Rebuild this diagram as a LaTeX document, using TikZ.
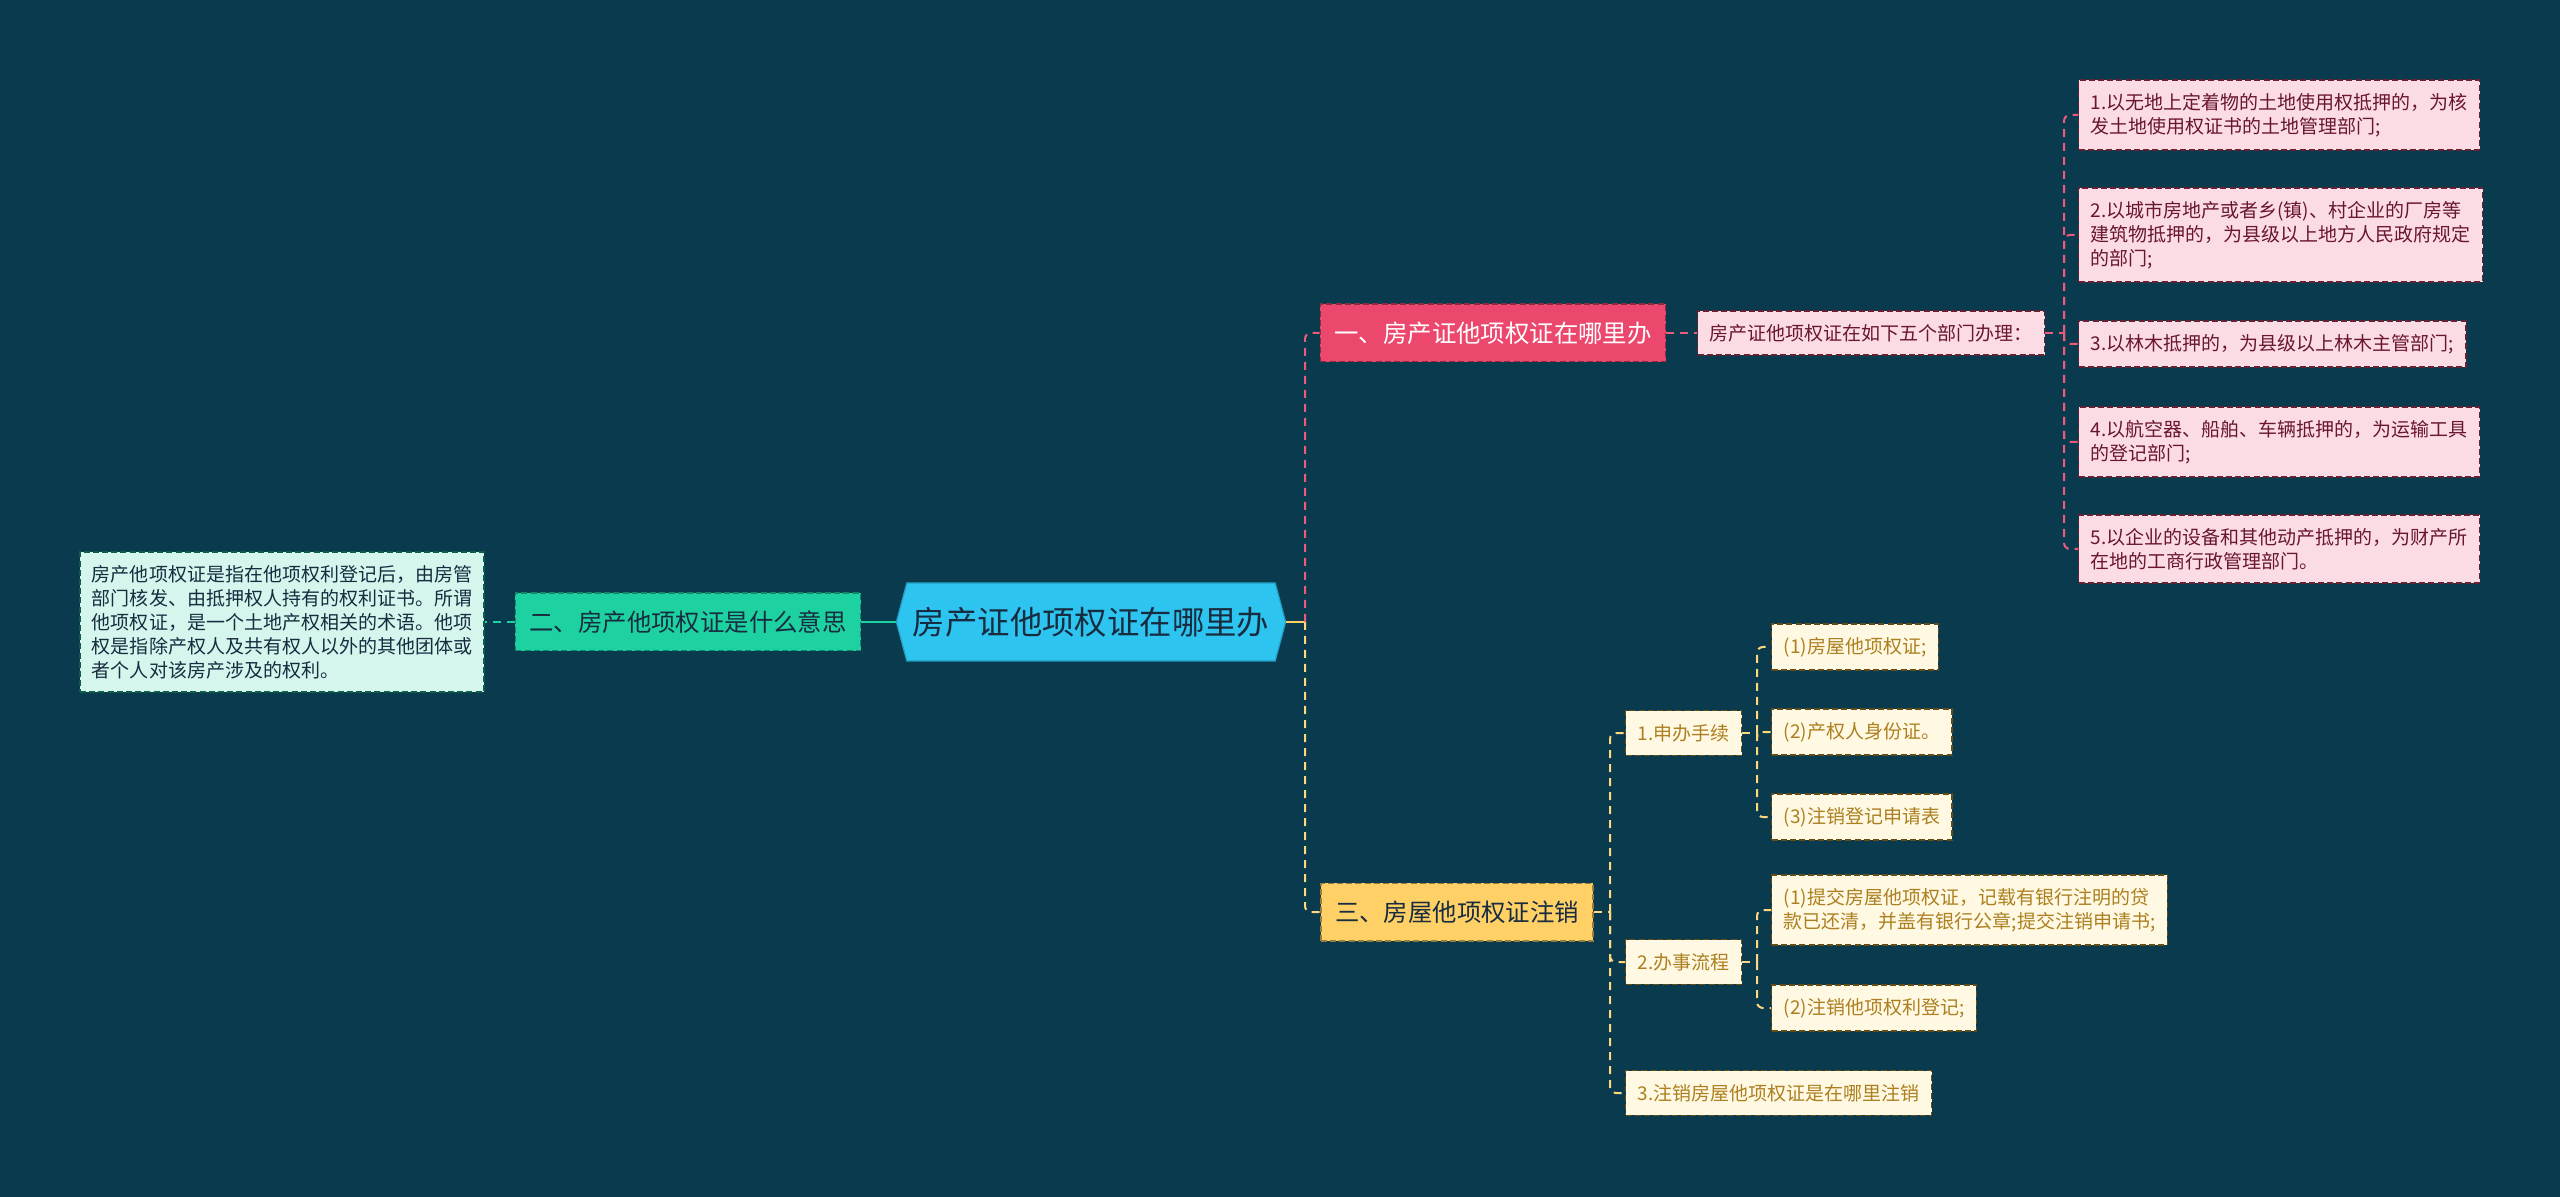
\documentclass[tikz,border=0pt]{standalone}
\usepackage{fontspec}
\setmainfont{Noto Sans CJK SC}
\usetikzlibrary{shapes.symbols}

\definecolor{bgcol}{RGB}{9,58,78}
\definecolor{rootcol}{RGB}{46,196,240}
\definecolor{greencol}{RGB}{29,209,161}
\definecolor{mintcol}{RGB}{212,246,237}
\definecolor{redcol}{RGB}{236,72,110}
\definecolor{rosecol}{RGB}{252,220,228}
\definecolor{maroon}{RGB}{105,22,48}
\definecolor{yelcol}{RGB}{255,208,102}
\definecolor{creamcol}{RGB}{255,248,226}
\definecolor{goldcol}{RGB}{172,128,32}
\definecolor{darktext}{RGB}{24,44,64}

\begin{document}
\begin{tikzpicture}[x=0.25pt, y=-0.25pt,
  every node/.style={font=\fontsize{4.75}{6}\selectfont, align=left, inner xsep=3pt, inner ysep=3.3pt},
  box/.style={draw, line width=0.35pt, dash pattern=on 1.5pt off 0.8pt},
  bigfont/.style={font=\fontsize{6.1}{7.5}\selectfont, minimum height=14.4pt, inner xsep=3.5pt},
  rootbox/.style={shape=signal, signal to=east and west, signal pointer angle=150,
    fill=rootcol, draw=rootcol!80!black, line width=0.3pt, text=darktext,
    font=\fontsize{8.1}{10}\selectfont, minimum height=19.5pt, inner xsep=1.5pt},
  greenbox/.style={box, bigfont, fill=greencol, draw=greencol!65!black, text=darktext},
  mintbox/.style={box, fill=mintcol, draw=greencol!45!black, text=darktext},
  redbox/.style={box, bigfont, fill=redcol, draw=redcol!60!black, text=white},
  rosebox/.style={box, fill=rosecol, draw=redcol!45!black, text=maroon},
  yelbox/.style={box, bigfont, fill=yelcol, draw=yelcol!60!black, text=darktext},
  creambox/.style={box, fill=creamcol, draw=goldcol!60!black, text=goldcol, minimum height=11.2pt},
  link/.style={line width=0.5pt, dash pattern=on 2pt off 1.5pt, rounded corners=1.5pt},
  teallink/.style={link, greencol},
  redlink/.style={link, redcol!90!white},
  yellink/.style={link, yelcol!85!white}]

  \fill[bgcol] (0,0) rectangle (2560,1197);

  % junctions
  \coordinate (J)   at (1305,622);
  \coordinate (JW)  at (2064,333);
  \coordinate (JS)  at (1610,912);
  \coordinate (JS1) at (1757,733);
  \coordinate (JS2) at (1757,962);

  % centre and left side
  \node[rootbox]  (R)  at (1091,622) {房产证他项权证在哪里办};
  \node[greenbox] (T)  at (688,622)  {二、房产他项权证是什么意思};
  \node[mintbox]  (TD) at (282,622)  {房产他项权证是指在他项权利登记后，由房管\\部门核发、由抵押权人持有的权利证书。所谓\\他项权证，是一个土地产权相关的术语。他项\\权是指除产权人及共有权人以外的其他团体或\\者个人对该房产涉及的权利。};

  % branch one
  \node[redbox]  (W)  at (1493,333) {一、房产证他项权证在哪里办};
  \node[rosebox] (W0) at (1871,333) {房产证他项权证在如下五个部门办理：};
  \node[rosebox, anchor=west] (W1) at (2078,115) {1.以无地上定着物的土地使用权抵押的，为核\\发土地使用权证书的土地管理部门;};
  \node[rosebox, anchor=west] (W2) at (2078,235) {2.以城市房地产或者乡(镇)、村企业的厂房等\\建筑物抵押的，为县级以上地方人民政府规定\\的部门;};
  \node[rosebox, anchor=west] (W3) at (2078,344) {3.以林木抵押的，为县级以上林木主管部门;};
  \node[rosebox, anchor=west] (W4) at (2078,442) {4.以航空器、船舶、车辆抵押的，为运输工具\\的登记部门;};
  \node[rosebox, anchor=west] (W5) at (2078,549) {5.以企业的设备和其他动产抵押的，为财产所\\在地的工商行政管理部门。};

  % branch three
  \node[yelbox] (S) at (1457,912) {三、房屋他项权证注销};
  \node[creambox, anchor=west] (S1)  at (1625,733)  {1.申办手续};
  \node[creambox, anchor=west] (S11) at (1771,647)  {(1)房屋他项权证;};
  \node[creambox, anchor=west] (S12) at (1771,732)  {(2)产权人身份证。};
  \node[creambox, anchor=west] (S13) at (1771,817)  {(3)注销登记申请表};
  \node[creambox, anchor=west] (S2)  at (1625,962)  {2.办事流程};
  \node[creambox, anchor=west] (S21) at (1771,910)  {(1)提交房屋他项权证，记载有银行注明的贷\\款已还清，并盖有银行公章;提交注销申请书;};
  \node[creambox, anchor=west] (S22) at (1771,1008) {(2)注销他项权利登记;};
  \node[creambox, anchor=west] (S3)  at (1625,1093) {3.注销房屋他项权证是在哪里注销};

  % connectors
  \draw[greencol, line width=0.7pt] (R.west) -- (T.east);
  \draw[teallink] (T.west) -- (TD.east);
  \draw[yelcol, line width=0.7pt] (R.east) -- (J);
  \draw[redlink] (J) |- (W.west);
  \draw[yellink] (J) |- (S.west);

  \draw[redlink] (W.east) -- (W0.west);
  \draw[redlink] (W0.east) -- (JW);
  \foreach \n in {W1,W2,W3,W4,W5}
    \draw[redlink] (JW) |- (\n.west);

  \draw[yellink] (S.east) -- (JS);
  \foreach \n in {S1,S2,S3}
    \draw[yellink] (JS) |- (\n.west);
  \draw[yellink] (S1.east) -- (JS1);
  \foreach \n in {S11,S12,S13}
    \draw[yellink] (JS1) |- (\n.west);
  \draw[yellink] (S2.east) -- (JS2);
  \foreach \n in {S21,S22}
    \draw[yellink] (JS2) |- (\n.west);
\end{tikzpicture}
\end{document}
